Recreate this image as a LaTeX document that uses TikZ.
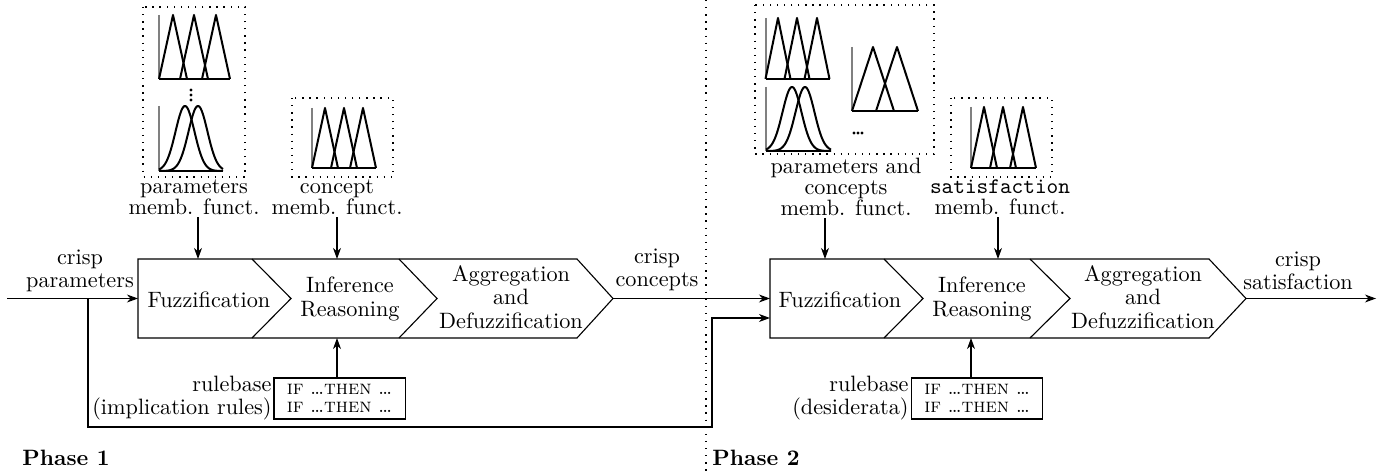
\documentclass[tikz,border=0pt]{standalone}
\usetikzlibrary{arrows.meta}
\newcommand\mftri[6]{%
  \draw[ax] (#1,#2) -- (#1,#3);
  \draw[mf] (#1,#3) -- (#6,#3);
  \foreach \p in {#5} {\draw[mf] (\p-#4,#3) -- (\p,#2) -- (\p+#4,#3);}
}
\newcommand\mfgauss[6]{% axis x, top y, base y, end x, peak1, peak2
  \draw[ax] (#1,#2) -- (#1,#3);
  \draw[mf] (#1,#3) -- (#4,#3);
  \foreach \p in {#5,#6} {\draw[mf] plot[domain=#1:#4,samples=80,smooth] (\x,{#3-(#3-#2)*exp(-((\x-\p)*(\x-\p))/(2*90))});}
}
\newcommand\ifthenrule{\textsc{if} \ldots\textsc{then} \ldots}
\begin{document}
\begin{tikzpicture}[x=0.45pt,y=-0.45pt,
  arr/.style={-{Stealth[length=5pt,width=3.6pt]},line width=0.5pt},
  mf/.style={line width=0.9pt,line join=round},
  ax/.style={gray,line width=0.5pt},
  dbox/.style={line width=0.6pt,dash pattern=on 0.6pt off 2.6pt},
  lbl/.style={align=center,font=\fontsize{10}{9.4}\selectfont,inner sep=1pt},
  txt/.style={align=center,font=\fontsize{10}{10.5}\selectfont,inner sep=0pt},
  stage/.style={line width=0.5pt,line join=miter},
  rules/.style={draw,line width=0.5pt,minimum width=59pt,minimum height=18.4pt,inner sep=1pt,align=left,font=\fontsize{9}{7.8}\selectfont},
  phase/.style={font=\bfseries,inner sep=0pt,anchor=west}
]
\useasboundingbox (0,0) rectangle (1396,474);

% phase separator
\draw[dbox] (706,0) -- (706,474);

% ---------- Phase 1 membership functions ----------
\draw[dbox] (143,7) rectangle (245,177);
\mftri{159}{15}{79}{14}{173,194,216}{230}
\foreach \yy in {90,95,100} \fill (191,\yy) circle[radius=0.7pt];
\mfgauss{159}{106}{171}{223}{185}{198}
\draw[dbox] (292,98) rectangle (393,177);
\mftri{312}{108}{168}{13}{325,344,363}{376}

% ---------- Phase 2 membership functions ----------
\draw[dbox] (755,5) rectangle (934,154);
\mftri{766}{18}{79}{12.5}{778,797,817}{830}
\mfgauss{766}{87}{151}{831}{792}{805}
\mftri{852}{47}{111}{21}{873,897}{918}
\foreach \xx in {854,858,862} \fill (\xx,133) circle[radius=0.7pt];
\draw[dbox] (951,98) rectangle (1052,177);
\mftri{971}{107}{168}{13}{984,1003,1023}{1036}

% ---------- labels of membership functions ----------
\node[lbl] (pml) at (194,197) {parameters\\memb. funct.};
\node[lbl] (cml) at (337,197) {concept\\memb. funct.};
\node[lbl] (pcml) at (846,187) {parameters and\\concepts\\memb. funct.};
\node[lbl] (sml) at (1000,197) {\texttt{satisfaction}\\memb. funct.};

% ---------- Phase 1 stages ----------
\draw[stage] (138,259) -- (577,259) -- (613,298.5) -- (577,338) -- (138,338) -- cycle;
\draw[stage] (252,259) -- (291,298.5) -- (252,338);
\draw[stage] (399,259) -- (437,298.5) -- (399,338);
\node[txt] (fz1) at (209,300) {Fuzzification};
\node[txt] (inf1) at (350,299) {Inference\\Reasoning};
\node[txt] (agg1) at (511,297) {Aggregation\\and\\Defuzzification};
\coordinate (fzL1) at (138,298.5);
\coordinate (aggR1) at (613,298.5);
\coordinate (t11) at (198,259);
\coordinate (t12) at (337,259);
\coordinate (b12) at (337,338);

% ---------- Phase 2 stages ----------
\draw[stage] (770,259) -- (1209,259) -- (1246,298.5) -- (1209,338) -- (770,338) -- cycle;
\draw[stage] (884,259) -- (923,298.5) -- (884,338);
\draw[stage] (1030,259) -- (1070,298.5) -- (1030,338);
\node[txt] (fz2) at (840,300) {Fuzzification};
\node[txt] (inf2) at (982,299) {Inference\\Reasoning};
\node[txt] (agg2) at (1143,297) {Aggregation\\and\\Defuzzification};
\coordinate (fzL2) at (770,298.5);
\coordinate (fzL2b) at (770,318);
\coordinate (aggR2) at (1246,298.5);
\coordinate (t21) at (825,259);
\coordinate (t22) at (998,259);
\coordinate (b22) at (971,338);

% ---------- rulebases ----------
\node[rules] (rb1) at (339.5,398.5) {\ifthenrule\\\ifthenrule};
\node[txt,align=right,anchor=east] (rbl1) at (272,398) {rulebase\\(implication rules)};
\node[rules] (rb2) at (977,398.5) {\ifthenrule\\\ifthenrule};
\node[txt,align=right,anchor=east] (rbl2) at (909,398) {rulebase\\(desiderata)};

% ---------- crisp labels ----------
\coordinate (in1) at (7,298.5);
\coordinate (out2) at (1376,298.5);
\coordinate (br) at (88,298.5);
\node[txt] (cp) at (80,271) {crisp\\parameters};
\node[txt] (cc) at (657,270) {crisp\\concepts};
\node[txt] (cs) at (1298,271) {crisp\\satisfaction};

% ---------- connectors ----------
\draw[arr] (in1) -- (fzL1);
\draw[arr] (aggR1) -- (fzL2);
\draw[arr] (aggR2) -- (out2);
\draw[arr] (br) |- (712,427) |- (fzL2b);
\draw[arr] (pml.south -| t11) -- (t11);
\draw[arr] (cml.south -| t12) -- (t12);
\draw[arr] (pcml.south -| t21) -- (t21);
\draw[arr] (sml.south -| t22) -- (t22);
\draw[arr] (rb1.north -| b12) -- (b12);
\draw[arr] (rb2.north -| b22) -- (b22);

% ---------- phase labels ----------
\node[phase] (ph1) at (22,458) {Phase 1};
\node[phase] (ph2) at (712,458) {Phase 2};
\end{tikzpicture}
\end{document}
